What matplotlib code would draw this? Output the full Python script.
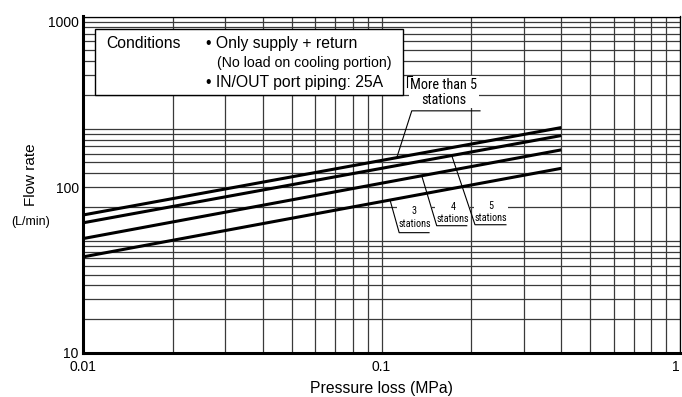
import numpy as np
import matplotlib
matplotlib.use("Agg")
import matplotlib.pyplot as plt
from matplotlib.ticker import FixedLocator, FixedFormatter, LogLocator, NullFormatter, NullLocator
from matplotlib.patches import Rectangle

plt.rcParams['font.family'] = ['Liberation Sans', 'DejaVu Sans']

# --- Datos: caudal vs. pérdida de presión (log-log, rectas) ---
presion = [0.01, 0.4]                 # MPa
caudal_mas_de_5 = [68, 229]           # L/min
caudal_5 = [61, 205]
caudal_4 = [49, 168]
caudal_3 = [38, 130]

x_ticks = [0.01, 0.1, 1]
x_tick_labels = ['0.01', '0.1', '1']
y_ticks = [10, 100, 1000]
y_tick_labels = ['10', '100', '1000']

W, H = 682, 397
fig = plt.figure(figsize=(W / 100, H / 100), dpi=100)
izq, der, arriba, abajo = 83, 680, 16.5, 353
ax = fig.add_axes([izq / W, 1 - abajo / H, (der - izq) / W, (abajo - arriba) / H])

# eje gemelo solo para la retícula horizontal (3 décadas en la altura del gráfico)
ax2 = ax.twinx()
ax2.set_yscale('log')
ax2.set_ylim(1, 1000)
ax2.yaxis.set_major_locator(LogLocator(base=10, subs=np.arange(1, 10)))
ax2.yaxis.set_minor_locator(NullLocator())
ax2.yaxis.set_major_formatter(NullFormatter())
ax2.tick_params(axis='y', length=0)
ax2.grid(True, axis='y', color='#3a3a3a', linewidth=0.9)
for s in ax2.spines.values():
    s.set_visible(False)
ax2.set_zorder(0)
ax.set_zorder(1)
ax.patch.set_visible(False)

ax.set_xscale('log')
ax.set_yscale('log')
ax.set_xlim(0.01, 1)
ax.set_ylim(10, 10 ** 3.03)

ax.xaxis.set_major_locator(FixedLocator(x_ticks))
ax.xaxis.set_major_formatter(FixedFormatter(x_tick_labels))
ax.xaxis.set_minor_locator(LogLocator(base=10, subs=np.arange(2, 10)))
ax.xaxis.set_minor_formatter(NullFormatter())
ax.yaxis.set_major_locator(FixedLocator(y_ticks))
ax.yaxis.set_major_formatter(FixedFormatter(y_tick_labels))
ax.yaxis.set_minor_locator(NullLocator())
ax.tick_params(which='both', length=0, labelsize=10, colors='black')
ax.tick_params(axis='x', pad=5)
ax.tick_params(axis='y', pad=3)
ax.set_axisbelow(True)
ax.grid(True, which='both', axis='x', color='#3a3a3a', linewidth=0.9)

ax.spines['left'].set_linewidth(2.2)
ax.spines['bottom'].set_linewidth(2.2)
ax.spines['top'].set_linewidth(0.9)
ax.spines['right'].set_linewidth(0.9)

series = [caudal_mas_de_5, caudal_5, caudal_4, caudal_3]
for c in series:
    ax.plot(presion, c, color='black', linewidth=2.2, solid_capstyle='butt', zorder=2)


def sobre_linea(c, x):
    # valor de la recta (log-log) en x
    lx = np.log10(presion)
    ly = np.log10(c)
    return 10 ** np.interp(np.log10(x), lx, ly)


narrow = ['Liberation Sans Narrow', 'Roboto Condensed', 'Liberation Sans']

# etiquetas de estaciones: (serie, x en la recta, inicio y fin del subrayado, y del subrayado, texto)
etiquetas = [
    (caudal_3, 0.1068, 0.1146, 0.1443, 53.2, (0.129, 65.5)),
    (caudal_4, 0.1364, 0.1531, 0.193, 58.6, (0.1733, 69.7)),
    (caudal_5, 0.1719, 0.2057, 0.2612, 59.4, (0.2326, 70.7)),
]
nombres = ['3', '4', '5']
for (c, xl, x0, x1, yu, (tx, ty)), n in zip(etiquetas, nombres):
    ax.text(tx, ty, n + '\nstations', ha='center', va='center', fontsize=7.3,
            family=narrow, linespacing=1.3, zorder=3,
            bbox=dict(facecolor='white', edgecolor='none', pad=0.8))
    ax.plot([xl, x0, x1], [sobre_linea(c, xl), yu, yu], color='black',
            linewidth=0.8, zorder=4)

# "More than 5 stations"
ax.text(0.162, 373, 'More than 5\nstations', ha='center', va='center', fontsize=10.3,
        family=narrow, linespacing=1.1, zorder=3,
        bbox=dict(facecolor='white', edgecolor='none', pad=1.0))
xm = 0.1125
ax.plot([xm, 0.1263, 0.2138], [sobre_linea(caudal_mas_de_5, xm), 289, 289],
        color='black', linewidth=0.8, zorder=4)
ax.plot([0.1265, 0.1222, 0.1222], [470, 470, 403], color='black', linewidth=0.8, zorder=4)

# cuadro de condiciones
bx0, by0, bx1, by1 = 95.3, 28.7, 403.3, 95
fig.patches.append(Rectangle((bx0 / W, 1 - by1 / H), (bx1 - bx0) / W, (by1 - by0) / H,
                             transform=fig.transFigure, facecolor='white',
                             edgecolor='black', linewidth=1.0, zorder=5))


def ftext(px, py, s, **kw):
    fig.text(px / W, 1 - py / H, s, zorder=6, **kw)


ftext(106.7, 43.5, 'Conditions', fontsize=11.3, va='center', ha='left')
ftext(206, 43.5, '• Only supply + return', fontsize=11.3, va='center', ha='left')
ftext(216.7, 63, '(No load on cooling portion)', fontsize=10.2, va='center', ha='left')
ftext(206, 82, '• IN/OUT port piping: 25A', fontsize=11.3, va='center', ha='left')

# títulos de ejes
ftext(381.5, 388, 'Pressure loss (MPa)', fontsize=11.3, ha='center', va='center')
ftext(31, 175, 'Flow rate', fontsize=11, rotation=90, ha='center', va='center')
ftext(31, 222, '(L/min)', fontsize=9, ha='center', va='center')

# el "1" del extremo derecho alineado para que no quede cortado
fig.canvas.draw()
ax.get_xticklabels()[-1].set_horizontalalignment('right')

fig.savefig('out.png', dpi=100)
